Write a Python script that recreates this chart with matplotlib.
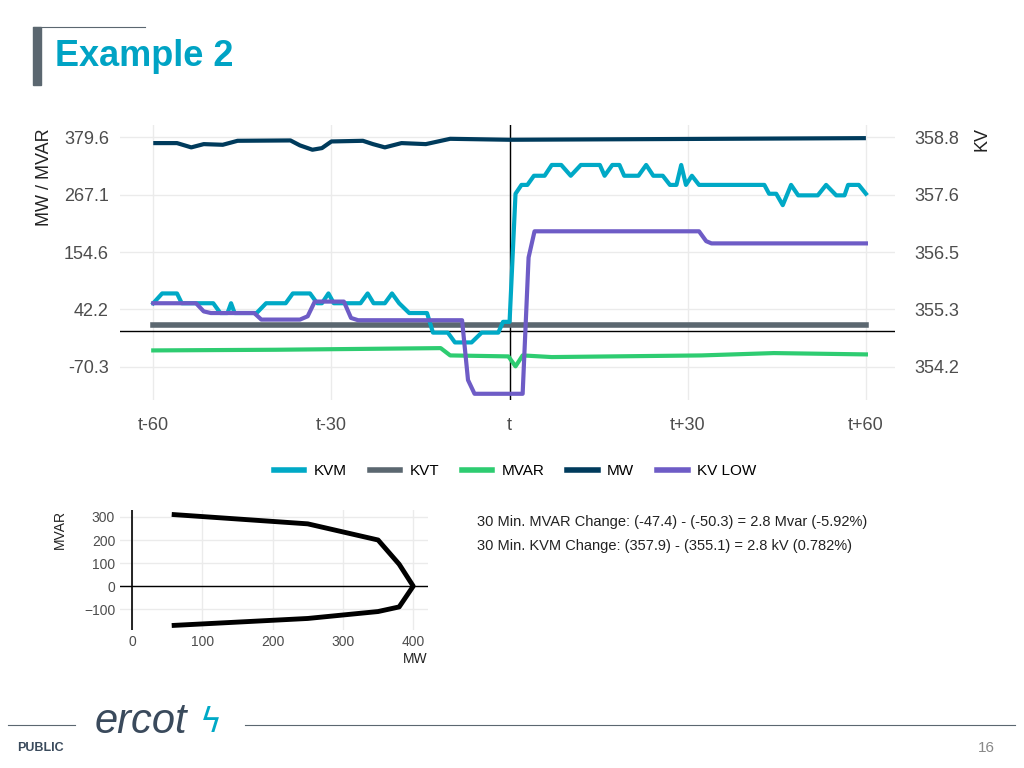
import numpy as np
import matplotlib.pyplot as plt
from matplotlib.lines import Line2D

plt.rcParams['font.family'] = 'Liberation Sans'

# main chart data (time in minutes relative to event)
mw_t = [-60, -56.0, -53.6, -51.5, -48.3, -45.8, -36.9, -35.3, -33.2, -31.6, -30.0, -24.7, -23.0, -21.0, -18.2, -14.1, -10.0, 0, 60]
mw_v = [367.7, 367.7, 359.3, 365.7, 364.4, 372.2, 372.9, 363.2, 354.7, 357.9, 370.9, 372.2, 365.7, 359.3, 367.7, 365.7, 376.1, 374.2, 377.4]

mvar_t = [-60, -39.3, -11.6, -10.0, -0.2, 1.0, 2.2, 7.1, 32.3, 44.5, 60]
mvar_v = [-37.9, -36.6, -33.4, -47.7, -49.6, -69.1, -47.7, -50.9, -47.7, -43.1, -45.7]

kvm_t = [-60, -58.5, -56.0, -55.2, -49.9, -48.7, -47.5, -46.9, -46.3, -42.6, -41.0, -37.7, -36.5, -33.6,
         -32.4, -31.6, -30.5, -29.6, -25.1, -23.9, -22.9, -21.0, -19.8, -18.6, -16.9, -13.9, -12.9, -10.4,
         -9.2, -6.4, -4.7, -1.9, -1.1, 0, 1.0, 2.0, 3.0, 4.1, 5.9, 7.1, 8.7, 10.3, 12.0, 15.2, 16.0, 17.3,
         18.5, 19.3, 21.7, 23.0, 24.2, 25.8, 27.0, 28.1, 28.9, 29.7, 30.7, 31.9, 42.9, 43.7, 44.9, 46.0,
         47.4, 48.6, 51.9, 53.3, 55.0, 56.4, 57.0, 58.8, 60]
kvm_v = [355.475, 355.671, 355.671, 355.475, 355.475, 355.279, 355.279, 355.475, 355.279, 355.279, 355.475,
         355.475, 355.671, 355.671, 355.475, 355.475, 355.671, 355.475, 355.475, 355.671, 355.475, 355.475,
         355.671, 355.475, 355.279, 355.279, 354.887, 354.887, 354.691, 354.691, 354.887, 354.887, 355.103,
         355.103, 357.665, 357.842, 357.842, 358.025, 358.025, 358.241, 358.241, 358.025, 358.241, 358.241,
         358.025, 358.241, 358.241, 358.025, 358.025, 358.241, 358.025, 358.025, 357.842, 357.842, 358.241,
         357.842, 358.025, 357.842, 357.842, 357.665, 357.665, 357.437, 357.842, 357.633, 357.633, 357.842,
         357.633, 357.633, 357.842, 357.842, 357.665]

kvlow_t = [-60, -52.8, -51.5, -50.3, -43.0, -41.8, -35.3, -34.0, -32.8, -27.9, -26.7, -25.5, -8.0, -7.0,
           -5.9, 2.2, 3.2, 4.2, 31.9, 33.1, 34.0, 60]
kvlow_v = [355.475, 355.475, 355.312, 355.279, 355.279, 355.148, 355.148, 355.214, 355.508, 355.508, 355.181,
           355.135, 355.135, 353.939, 353.664, 353.664, 356.390, 356.914, 356.914, 356.717, 356.672, 356.672]

kvt_t = [-60, 60]
kvt_v = [355.037, 355.037]

left_ticks = [-70.3, 42.2, 154.6, 267.1, 379.6]
right_labels = ['354.2', '355.3', '356.5', '357.6', '358.8']
x_ticks = [-60, -30, 0, 30, 60]
x_labels = ['t-60', 't-30', 't', 't+30', 't+60']

# capability curve
cap_mw = [60, 250, 350, 380, 400, 380, 350, 250, 60]
cap_mvar = [310, 270, 200, 95, 0, -90, -110, -140, -170]

C_KVM = '#00A9C6'
C_KVT = '#5B6770'
C_MVAR = '#2ECC71'
C_MW = '#003B5C'
C_KVL = '#6E5CC6'
GRID = '#EBEBEB'
TXT = '#4D4D4D'


def to_kv(v):
    return 354.2 + (v + 70.3) * 4.6 / 449.9


fig = plt.figure(figsize=(10.24, 7.68), dpi=100)

# header
fig.text(55 / 1024, 1 - 57 / 768, 'Example 2', fontsize=26, fontweight='bold', color='#00A3C4', va='center')
fig.add_artist(plt.Rectangle((33 / 1024, 1 - 85 / 768), 8 / 1024, 58 / 768, color='#5B6770'))
fig.add_artist(Line2D([33 / 1024, 145 / 1024], [1 - 27 / 768] * 2, color='#5B6770', lw=0.8))

# main chart
ax = fig.add_axes([120 / 1024, 1 - 400 / 768, 775 / 1024, 275 / 768])
ax.set_xlim(-65.6, 64.9)
ylo, yhi = -134.9, 403.1
ax.set_ylim(ylo, yhi)
for s in ax.spines.values():
    s.set_visible(False)
ax.grid(True, color=GRID, lw=1)
ax.set_xticks(x_ticks)
ax.set_xticklabels(x_labels)
ax.set_yticks(left_ticks)
ax.set_yticklabels(['-70.3', '42.2', '154.6', '267.1', '379.6'])
ax.tick_params(length=0, labelsize=13, colors=TXT, pad=12)
ax.tick_params(axis='y', pad=8)
ax.set_ylabel('MW / MVAR', fontsize=13, color='#222222', labelpad=8)
ax.yaxis.label.set_y(0.81)
ax.axhline(0, color='black', lw=1)
ax.axvline(0, color='black', lw=1)

ax2 = ax.twinx()
ax2.set_ylim(to_kv(ylo), to_kv(yhi))
ax2.set_yticks([to_kv(v) for v in left_ticks])
ax2.set_yticklabels(right_labels)
for s in ax2.spines.values():
    s.set_visible(False)
ax2.tick_params(length=0, labelsize=13, colors=TXT, pad=14)
ax2.set_ylabel('KV', fontsize=13, color='#222222', labelpad=10)
ax2.yaxis.label.set_y(0.95)

ax.plot(mw_t, mw_v, color=C_MW, lw=3, solid_capstyle='butt')
ax.plot(mvar_t, mvar_v, color=C_MVAR, lw=3)
ax2.plot(kvt_t, kvt_v, color=C_KVT, lw=4)
ax2.plot(kvm_t, kvm_v, color=C_KVM, lw=3)
ax2.plot(kvlow_t, kvlow_v, color=C_KVL, lw=3)

handles = [Line2D([], [], color=c, lw=4) for c in [C_KVM, C_KVT, C_MVAR, C_MW, C_KVL]]
fig.legend(handles, ['KVM', 'KVT', 'MVAR', 'MW', 'KV LOW'], loc='center', bbox_to_anchor=(515 / 1024, 1 - 471 / 768),
           ncol=5, frameon=False, fontsize=11, handlelength=2, columnspacing=1.5, handletextpad=0.6)

# capability chart
bx = fig.add_axes([120 / 1024, 1 - 630 / 768, 308 / 1024, 120 / 768])
bx.set_xlim(-17, 421)
bx.set_ylim(-190, 330)
for s in bx.spines.values():
    s.set_visible(False)
bx.grid(True, color=GRID, lw=1)
bx.set_xticks([0, 100, 200, 300, 400])
bx.set_yticks([-100, 0, 100, 200, 300])
bx.tick_params(length=0, labelsize=10, colors=TXT)
bx.axhline(0, color='black', lw=1)
bx.axvline(0, color='black', lw=1.2)
bx.plot(cap_mw, cap_mvar, color='black', lw=3.5)
bx.set_xlabel('MW', fontsize=10, color='#222222', loc='right', labelpad=2)
bx.set_ylabel('MVAR', fontsize=10, color='#222222', loc='top', labelpad=12)

fig.text(477 / 1024, 1 - 522 / 768, '30 Min. MVAR Change: (-47.4) - (-50.3) = 2.8 Mvar (-5.92%)',
         fontsize=10.5, color='#222222', va='center')
fig.text(477 / 1024, 1 - 546 / 768, '30 Min. KVM Change: (357.9) - (355.1) = 2.8 kV (0.782%)',
         fontsize=10.5, color='#222222', va='center')

# footer
fig.add_artist(Line2D([8 / 1024, 75 / 1024], [1 - 725 / 768] * 2, color='#5B6770', lw=0.8))
fig.add_artist(Line2D([245 / 1024, 1015 / 1024], [1 - 725 / 768] * 2, color='#5B6770', lw=0.8))
fig.text(95 / 1024, 1 - 722 / 768, 'ercot', fontsize=30, fontstyle='italic', color='#3A4A5C', va='center')
fig.text(200 / 1024, 1 - 722 / 768, '\u03df', fontsize=24, color='#00A9C6', va='center',
         fontfamily='DejaVu Sans')
fig.text(17 / 1024, 1 - 748 / 768, 'PUBLIC', fontsize=9, fontweight='bold', color='#3A4A5C', va='center')
fig.text(995 / 1024, 1 - 748 / 768, '16', fontsize=11, color='#888888', va='center', ha='right')

fig.savefig('out.png', dpi=100)
